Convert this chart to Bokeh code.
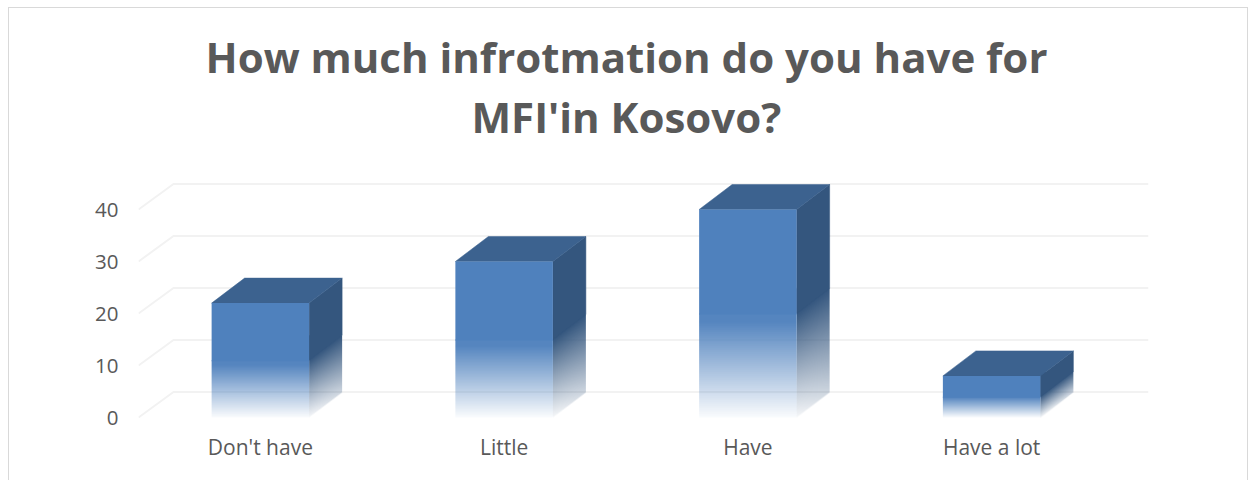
import numpy as np
from bokeh.plotting import figure
from bokeh.models import Range1d, FixedTicker, Title
from bokeh.embed import file_html
from bokeh.resources import INLINE

title_lines = ["How much infrotmation do you have for", "MFI'in Kosovo?"]
categories = ["Don't have", "Little", "Have", "Have a lot"]
values = [22, 30, 40, 8]
y_ticks = [0, 10, 20, 30, 40]

FRONT = (79, 129, 189)
TOP = "#3c628f"
SIDE = (52, 86, 126)
GRID = "#f2f2f2"
TEXT = "#595959"
PX_X = 243.75
PX_Y = 5.2
BAR_HALF = 0.2
BAR_DX = 33 / PX_X
BAR_DY = 25 / PX_Y
WALL_DX = 35 / PX_X
WALL_DY = 25.5 / PX_Y
X0 = -0.5
X1 = X0 + 1010 / PX_X


def rgb_hex(c):
    return "#%02x%02x%02x" % tuple(c)


def rgba_image(rgb, alpha):
    img = np.zeros(alpha.shape + (4,), dtype=np.uint8)
    img[..., 0], img[..., 1], img[..., 2] = rgb
    img[..., 3] = np.clip(alpha * 255, 0, 255).astype(np.uint8)
    return img.view(dtype=np.uint32).reshape(alpha.shape)


p = figure(width=1238, height=472, output_backend="svg", toolbar_location=None,
           x_range=Range1d(X0, X1), y_range=Range1d(-3 / PX_Y, 247 / PX_Y),
           min_border_left=129, min_border_right=99, min_border_top=162, min_border_bottom=60,
           background_fill_color="white", border_fill_color="white", outline_line_color=None,
           margin=(8, 0, 0, 9), styles={"outline": "1.5px solid #d9d9d9"})
p.grid.visible = False
p.title = None

for line, standoff, offset in zip(reversed(title_lines), (51, -48), (333, 67)):
    p.add_layout(Title(text=line, align="left", offset=offset, standoff=standoff,
                       text_font="Open Sans", text_font_style="bold", text_font_size="42px",
                       text_color=TEXT), "above")

p.xaxis.ticker = FixedTicker(ticks=list(range(len(categories))))
p.xaxis.major_label_overrides = {i: c for i, c in enumerate(categories)}
p.yaxis.ticker = FixedTicker(ticks=y_ticks)
for ax, standoff, size in ((p.xaxis, 6, "21px"), (p.yaxis, 14, "20.5px")):
    ax.axis_line_color = None
    ax.major_tick_line_color = None
    ax.minor_tick_line_color = None
    ax.major_label_text_font = "Open Sans"
    ax.major_label_text_font_size = size
    ax.major_label_text_color = TEXT
    ax.major_label_standoff = standoff

p.multi_line([[X0, X0 + WALL_DX, X1] for _ in y_ticks],
             [[t, t + WALL_DY, t + WALL_DY] for t in y_ticks],
             line_color=GRID, line_width=2)

for i, v in enumerate(values):
    l, r = i - BAR_HALF, i + BAR_HALF
    mid = v / 2

    # side face, lower part fades towards the floor (sheared gradient raster)
    h_total = mid + BAR_DY
    cols, rows = 66, int(round(h_total * PX_Y * 2))
    yy = (np.arange(rows) + 0.5) / rows * h_total
    uu = (np.arange(cols) + 0.5) / cols
    Y, U = np.meshgrid(yy, uu, indexing="ij")
    level = Y - U * BAR_DY
    t = np.clip(level / mid, 0, 1)
    a = (0.05 + 0.2 * U) * (1 - t) + 1.0 * t
    a = a * np.clip(level * PX_Y + 0.5, 0, 1)
    p.image_rgba(image=[rgba_image(SIDE, a)], x=r, y=0, dw=BAR_DX, dh=h_total)
    p.patch([r, r + BAR_DX, r + BAR_DX, r], [mid, mid + BAR_DY, v + BAR_DY, v],
            fill_color=rgb_hex(SIDE), line_color=rgb_hex(SIDE), line_width=0.5)

    # top face
    p.patch([l, r, r + BAR_DX, l + BAR_DX], [v, v, v + BAR_DY, v + BAR_DY],
            fill_color=TOP, line_color=TOP, line_width=0.5)

    # front face, lower half fades
    rows_f = int(round(mid * PX_Y))
    tf = (np.arange(rows_f) + 0.5) / rows_f
    af = np.tile(np.minimum(0.03 + 1.02 * tf, 0.97).reshape(-1, 1), (1, 4))
    p.image_rgba(image=[rgba_image(FRONT, af)], x=l, y=0, dw=r - l, dh=mid)
    p.quad(left=[l], right=[r], bottom=[mid - 0.2], top=[v], fill_color=rgb_hex(FRONT), line_color=None)

open("out.html", "w").write(file_html(p, INLINE))
